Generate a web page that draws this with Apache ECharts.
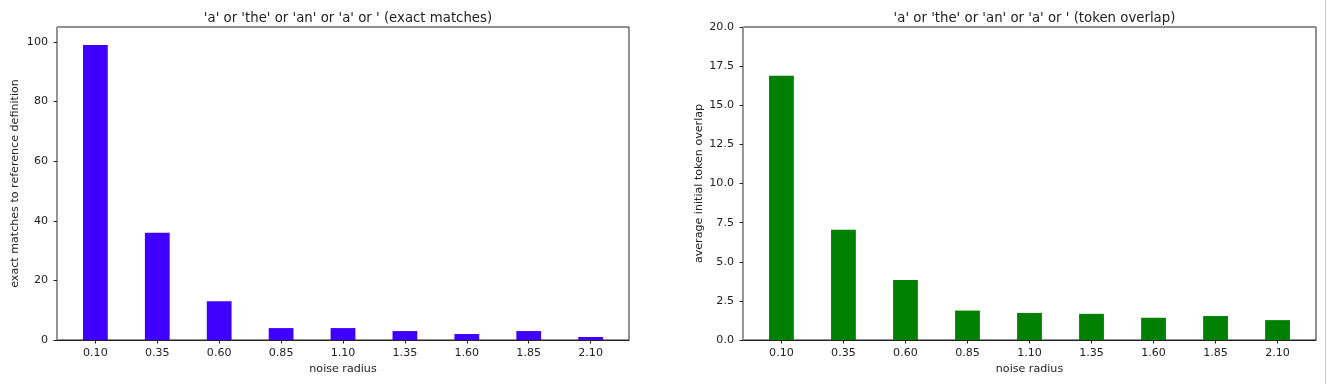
<!DOCTYPE html>
<html>
<head>
<meta charset="utf-8">
<script src="https://cdn.jsdelivr.net/npm/echarts@6/dist/echarts.min.js"></script>
<style>
html,body{margin:0;padding:0;background:#fff;}
#c{width:1328px;height:384px;}
</style>
</head>
<body>
<div id="c"></div>
<script>
// ---- data ----
const noiseRadius = [0.10, 0.35, 0.60, 0.85, 1.10, 1.35, 1.60, 1.85, 2.10];
const exactMatches = [99, 36, 13, 4, 4, 3, 2, 3, 1];
const tokenOverlap = [16.88, 7.04, 3.84, 1.88, 1.73, 1.67, 1.42, 1.53, 1.27];
const leftYTicks = [0, 20, 40, 60, 80, 100];
const rightYTicks = [0, 2.5, 5, 7.5, 10, 12.5, 15, 17.5, 20];
const leftTitle = "'a' or 'the' or 'an' or 'a' or ' (exact matches)";
const rightTitle = "'a' or 'the' or 'an' or 'a' or ' (token overlap)";
const xName = "noise radius";
const leftYName = "exact matches to reference definition";
const rightYName = "average initial token overlap";

// ---- layout ----
const FONT = "DejaVu Sans";
const FS = 11.1, TFS = 13.3;
const XMIN = -0.055, XMAX = 2.255;
const G = [
  {left: 57, top: 27, width: 572, height: 313},
  {left: 743, top: 27, width: 573, height: 313}
];
const barW = i => G[i].width / (XMAX - XMIN) * 0.1;

const chart = echarts.init(document.getElementById('c'), null, {renderer: 'canvas'});

function xAxis(i) {
  return {
    type: 'value', gridIndex: i, min: XMIN, max: XMAX,
    name: xName, nameLocation: 'middle', nameGap: 24,
    nameTextStyle: {fontFamily: FONT, fontSize: FS, color: '#222'},
    axisLine: {show: true, onZero: false, lineStyle: {color: '#222', width: 1}},
    axisTick: {show: true, length: 3.5, customValues: noiseRadius, lineStyle: {color: '#222'}},
    axisLabel: {customValues: noiseRadius, margin: 8, fontFamily: FONT, fontSize: FS, color: '#222',
      formatter: v => v.toFixed(2)},
    splitLine: {show: false}
  };
}
function yAxis(i, max, ticks, dec, gap, name) {
  return {
    type: 'value', gridIndex: i, min: 0, max: max,
    name: name, nameLocation: 'middle', nameGap: gap, nameRotate: 90,
    nameTextStyle: {fontFamily: FONT, fontSize: FS, color: '#222'},
    axisLine: {show: true, onZero: false, lineStyle: {color: '#999', width: 1}},
    axisTick: {show: true, length: 3.5, customValues: ticks, lineStyle: {color: '#222'}},
    axisLabel: {customValues: ticks, margin: 9, fontFamily: FONT, fontSize: FS, color: '#222',
      formatter: v => v.toFixed(dec)},
    splitLine: {show: false}
  };
}

const option = {
  backgroundColor: '#fff',
  animation: false,
  title: [
    {text: leftTitle, left: G[0].left + G[0].width / 2, top: 7, textAlign: 'center',
     textStyle: {fontFamily: FONT, fontSize: TFS, fontWeight: 'normal', color: '#222'}},
    {text: rightTitle, left: G[1].left + G[1].width / 2, top: 7, textAlign: 'center',
     textStyle: {fontFamily: FONT, fontSize: TFS, fontWeight: 'normal', color: '#222'}}
  ],
  grid: G.map(g => Object.assign({show: true, borderColor: '#222', borderWidth: 1, backgroundColor: '#fff'}, g)),
  xAxis: [xAxis(0), xAxis(1)],
  yAxis: [
    yAxis(0, 105, leftYTicks, 0, 36, leftYName),
    yAxis(1, 20, rightYTicks, 1, 38, rightYName)
  ],
  series: [
    {type: 'bar', xAxisIndex: 0, yAxisIndex: 0, barWidth: barW(0),
     itemStyle: {color: '#3f00ff'},
     data: noiseRadius.map((x, k) => [x, exactMatches[k]])},
    {type: 'bar', xAxisIndex: 1, yAxisIndex: 1, barWidth: barW(1),
     itemStyle: {color: '#008000'},
     data: noiseRadius.map((x, k) => [x, tokenOverlap[k]])}
  ],
  graphic: [
    {type: 'line', shape: {x1: 1325.5, y1: 0, x2: 1325.5, y2: 384}, style: {stroke: '#d0d0d0', lineWidth: 1}}
  ]
};
chart.setOption(option);
</script>
</body>
</html>
